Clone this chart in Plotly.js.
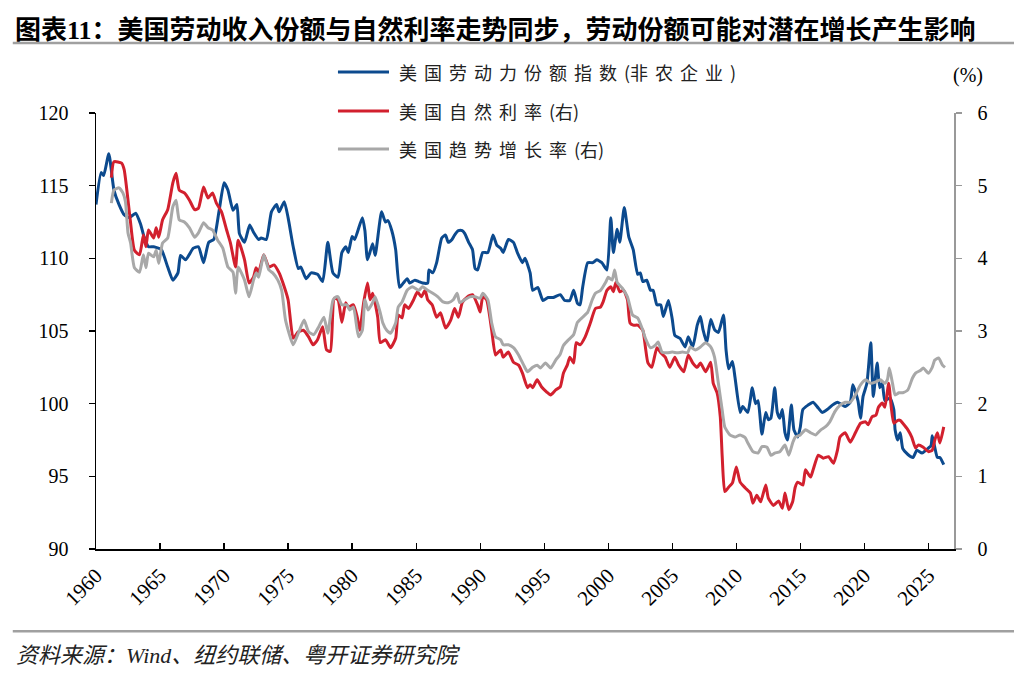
<!DOCTYPE html>
<html>
<head>
<meta charset="utf-8">
<script src="https://cdn.plot.ly/plotly-3.0.1.min.js"></script>
<style>
html,body{margin:0;padding:0;background:#fff;}
#chart{width:1014px;height:678px;}
</style>
</head>
<body>
<div id="chart"></div>
<script>
// ---- Data ----
const seriesNames = ['美国劳动力份额指数(非农企业)', '美国自然利率(右)', '美国趋势增长率(右)'];
const xTickVals = [1960,1965,1970,1975,1980,1985,1990,1995,2000,2005,2010,2015,2020,2025];
const xTickText = ['1960','1965','1970','1975','1980','1985','1990','1995','2000','2005','2010','2015','2020','2025'];

// 美国劳动力份额指数(非农企业) — left axis
const laborX = [1960.0,1960.4,1960.6,1961.0,1961.4,1961.8,1962.2,1962.6,1963.1,1963.5,1963.75,1964.1,1964.5,1965.1,1965.6,1966.0,1966.4,1966.6,1967.0,1967.6,1968.0,1968.4,1968.8,1969.2,1969.6,1970.0,1970.3,1970.7,1971.0,1971.2,1971.6,1972.0,1972.3,1972.7,1972.9,1973.3,1973.7,1974.1,1974.3,1974.7,1975.0,1975.4,1975.8,1976.0,1976.4,1976.8,1977.3,1977.7,1978.1,1978.5,1978.9,1979.2,1979.5,1979.7,1980.0,1980.2,1980.8,1981.0,1981.2,1981.6,1981.8,1982.3,1982.6,1982.8,1983.1,1983.4,1983.7,1984.0,1984.3,1984.5,1984.9,1985.2,1985.5,1985.9,1986.0,1986.3,1986.6,1987.0,1987.3,1987.5,1987.8,1988.0,1988.3,1988.6,1988.8,1989.1,1989.4,1989.6,1989.8,1990.2,1990.6,1991.0,1991.3,1991.6,1991.8,1992.2,1992.6,1992.9,1993.3,1993.5,1993.9,1994.1,1994.5,1994.9,1995.3,1995.7,1996.25,1996.6,1997.0,1997.3,1997.6,1997.8,1998.0,1998.4,1998.8,1999.1,1999.5,1999.9,2000.2,2000.4,2000.7,2000.9,2001.25,2001.6,2001.95,2002.3,2002.5,2002.7,2003.0,2003.3,2003.5,2003.8,2004.1,2004.3,2004.7,2005.0,2005.2,2005.6,2006.0,2006.25,2006.6,2006.95,2007.2,2007.4,2007.7,2008.0,2008.3,2008.6,2009.0,2009.2,2009.4,2009.7,2009.9,2010.3,2010.5,2010.9,2011.25,2011.5,2011.7,2012.0,2012.3,2012.5,2012.7,2013.0,2013.2,2013.4,2013.6,2013.8,2014.0,2014.3,2014.5,2014.8,2015.0,2015.2,2015.6,2016.0,2016.4,2016.7,2017.1,2017.5,2017.9,2018.3,2018.5,2018.9,2019.1,2019.5,2019.7,2019.9,2020.2,2020.5,2020.7,2021.0,2021.2,2021.4,2021.6,2022.0,2022.3,2022.4,2022.6,2022.8,2023.0,2023.4,2023.8,2024.1,2024.5,2024.8,2025.2,2025.3,2025.5,2025.7,2025.9,2026.2];
const laborY = [113.7,115.9,115.7,117.2,114.7,113.7,113.0,112.8,113.1,112.3,111.5,110.8,110.8,110.6,109.4,108.5,109.0,110.2,109.9,110.7,110.8,109.7,111.1,111.3,113.2,115.2,114.7,113.3,113.7,111.7,111.1,112.3,111.8,111.3,111.4,111.3,113.2,113.7,113.2,113.9,112.8,110.8,109.3,109.4,108.6,109.0,108.9,108.4,111.1,109.0,108.7,110.4,110.8,110.4,111.5,111.3,112.8,111.9,109.9,111.0,110.2,113.2,112.5,112.6,111.9,110.6,108.0,108.3,108.6,108.3,108.5,108.4,108.3,108.3,109.2,109.0,109.7,111.4,111.6,111.1,111.3,111.6,111.9,111.9,111.7,111.1,110.6,109.3,109.2,110.4,110.4,111.6,110.9,110.7,110.4,111.3,111.1,110.4,109.7,110.0,109.0,107.8,108.0,107.1,107.3,107.3,107.5,107.1,107.1,107.8,106.9,106.8,108.0,109.7,109.7,109.9,109.7,109.2,112.8,110.4,112.0,111.1,113.5,111.5,110.6,108.9,109.0,108.4,108.5,107.8,107.8,106.8,106.8,106.0,107.1,105.8,104.7,104.5,103.9,104.6,103.9,105.4,106.0,105.1,104.2,105.8,105.1,104.9,106.1,103.7,102.4,102.9,101.8,99.4,99.8,99.4,101.1,100.0,100.2,97.9,99.4,98.9,99.0,101.1,99.4,99.0,99.6,98.0,97.5,99.9,98.2,97.7,98.4,99.6,99.9,100.1,99.7,99.4,99.6,99.9,100.1,99.9,99.8,100.1,101.3,100.2,99.0,100.5,101.4,104.2,100.5,102.8,101.1,101.4,100.2,100.4,99.6,98.2,97.5,98.0,96.9,96.5,96.3,96.8,96.6,96.8,97.1,97.8,97.0,96.3,96.3,95.8];

// 美国自然利率(右) — right axis, %
const rateX = [1961.2,1961.4,1962.0,1962.2,1962.5,1962.7,1963.0,1963.4,1963.7,1963.9,1964.1,1964.5,1964.7,1964.9,1965.2,1965.6,1966.0,1966.25,1966.5,1966.9,1967.3,1967.7,1968.0,1968.4,1968.75,1969.1,1969.4,1969.8,1970.2,1970.5,1970.9,1971.1,1971.6,1971.95,1972.3,1972.5,1972.7,1973.1,1973.5,1973.9,1974.3,1974.6,1975.0,1975.4,1975.8,1976.2,1976.6,1976.95,1977.3,1977.7,1978.0,1978.3,1978.6,1978.9,1979.2,1979.5,1979.7,1980.1,1980.4,1980.6,1980.9,1981.2,1981.4,1981.6,1982.0,1982.2,1982.6,1983.0,1983.4,1983.6,1983.9,1984.1,1984.4,1984.8,1985.1,1985.4,1985.7,1985.9,1986.25,1986.6,1986.9,1987.3,1987.7,1988.0,1988.3,1988.6,1989.0,1989.4,1989.8,1990.0,1990.2,1990.5,1990.9,1991.2,1991.6,1991.8,1992.2,1992.6,1993.0,1993.3,1993.7,1993.9,1994.1,1994.45,1994.8,1995.2,1995.5,1995.9,1996.25,1996.5,1996.8,1997.0,1997.3,1997.5,1997.8,1998.2,1998.6,1999.0,1999.4,1999.6,1999.9,2000.2,2000.4,2000.6,2000.9,2001.2,2001.5,2001.7,2001.95,2002.3,2002.7,2002.9,2003.1,2003.4,2003.8,2004.1,2004.45,2004.8,2005.2,2005.5,2005.9,2006.25,2006.6,2006.95,2007.2,2007.6,2008.0,2008.2,2008.5,2008.75,2008.9,2009.1,2009.4,2009.7,2010.0,2010.3,2010.7,2011.1,2011.3,2011.6,2011.9,2012.3,2012.5,2012.9,2013.3,2013.6,2013.8,2014.1,2014.4,2014.6,2014.8,2015.2,2015.4,2015.8,2016.0,2016.4,2016.8,2017.2,2017.6,2017.9,2018.1,2018.5,2018.9,2019.3,2019.7,2020.1,2020.3,2020.6,2020.9,2021.1,2021.4,2021.6,2021.9,2022.1,2022.3,2022.6,2022.8,2023.0,2023.4,2023.7,2024.0,2024.2,2024.6,2025.0,2025.3,2025.5,2025.7,2025.9,2026.2];
const rateY = [5.11,5.33,5.31,5.22,4.80,4.49,4.11,4.05,4.32,4.16,4.39,4.28,4.42,4.29,4.53,4.67,5.04,5.17,4.94,4.90,4.80,4.67,4.69,4.98,4.83,4.90,4.76,4.64,4.39,4.21,3.88,4.25,3.98,3.66,3.74,3.87,3.81,4.05,3.88,3.91,3.80,3.66,3.43,2.90,2.99,3.01,2.92,2.81,2.88,3.06,2.74,2.72,3.45,3.43,3.12,3.39,3.33,3.36,3.19,3.01,3.39,3.66,3.43,3.52,3.19,2.84,2.88,2.77,2.90,3.22,3.18,3.36,3.31,3.43,3.54,3.47,3.56,3.43,3.36,3.19,3.25,3.04,3.15,3.31,3.19,3.39,3.47,3.50,3.36,3.26,3.47,3.43,3.01,2.67,2.74,2.64,2.71,2.57,2.53,2.42,2.22,2.26,2.22,2.33,2.23,2.16,2.12,2.19,2.23,2.42,2.53,2.64,2.56,2.84,2.81,2.92,3.11,3.31,3.33,3.40,3.56,3.61,3.54,3.67,3.54,3.56,3.43,3.11,3.08,3.08,3.01,2.78,2.56,2.50,2.77,2.70,2.64,2.50,2.64,2.53,2.44,2.67,2.56,2.50,2.56,2.44,2.57,2.28,2.15,1.82,1.27,0.79,0.85,0.91,1.13,0.92,0.84,0.77,0.63,0.74,0.65,0.88,0.70,0.60,0.66,0.56,0.77,0.54,0.65,0.85,0.92,0.88,1.09,0.99,1.09,1.29,1.25,1.27,1.18,1.36,1.54,1.60,1.47,1.60,1.73,1.75,1.71,1.82,1.84,1.95,2.01,1.95,2.28,1.95,1.73,1.77,1.77,1.73,1.64,1.54,1.39,1.43,1.40,1.34,1.36,1.50,1.60,1.46,1.68];

// 美国趋势增长率(右) — right axis, %
const trendX = [1961.2,1961.4,1961.8,1962.1,1962.3,1962.5,1962.7,1963.0,1963.4,1963.7,1963.9,1964.1,1964.5,1964.7,1964.9,1965.2,1965.6,1966.0,1966.25,1966.5,1966.9,1967.3,1967.7,1968.0,1968.4,1968.75,1969.1,1969.5,1969.9,1970.3,1970.7,1970.9,1971.1,1971.6,1971.95,1972.3,1972.5,1972.7,1973.1,1973.5,1973.8,1974.2,1974.5,1974.8,1975.4,1975.8,1976.25,1976.6,1977.0,1977.4,1977.8,1978.1,1978.5,1978.75,1978.9,1979.2,1979.6,1979.8,1980.1,1980.5,1980.8,1981.0,1981.25,1981.6,1981.8,1982.2,1982.4,1982.7,1983.0,1983.4,1983.6,1983.9,1984.3,1984.7,1985.2,1985.5,1985.9,1986.3,1986.7,1987.1,1987.5,1987.9,1988.2,1988.4,1988.8,1989.2,1989.6,1990.0,1990.2,1990.6,1990.9,1991.2,1991.6,1991.8,1992.2,1992.6,1993.0,1993.4,1993.7,1994.1,1994.45,1994.7,1995.1,1995.5,1995.9,1996.25,1996.5,1996.9,1997.3,1997.6,1998.0,1998.4,1998.75,1999.0,1999.4,1999.8,2000.0,2000.3,2000.5,2000.7,2001.1,2001.5,2001.9,2002.3,2002.7,2002.9,2003.3,2003.7,2003.9,2004.2,2004.6,2005.0,2005.4,2005.8,2006.2,2006.4,2006.8,2007.2,2007.6,2008.0,2008.3,2008.6,2008.9,2009.1,2009.5,2009.9,2010.3,2010.7,2010.9,2011.3,2011.7,2012.0,2012.4,2012.7,2013.0,2013.4,2013.8,2014.1,2014.4,2014.6,2015.0,2015.4,2015.8,2016.2,2016.6,2016.95,2017.3,2017.7,2018.1,2018.5,2018.9,2019.3,2019.7,2020.1,2020.5,2020.9,2021.25,2021.6,2021.8,2021.95,2022.2,2022.4,2022.7,2023.0,2023.4,2023.75,2024.0,2024.4,2024.6,2025.0,2025.3,2025.5,2025.8,2026.1,2026.3];
const trendY = [4.76,4.94,4.97,4.90,4.78,4.35,4.21,3.87,3.81,4.05,3.87,4.07,4.02,4.11,3.93,4.21,4.28,4.71,4.80,4.53,4.50,4.42,4.29,4.35,4.49,4.42,4.39,4.25,4.14,3.88,3.81,3.52,3.88,3.70,3.47,3.70,3.80,3.74,4.05,3.84,3.80,3.70,3.56,3.15,2.81,2.97,3.15,2.99,2.95,3.06,3.19,2.97,3.42,3.47,3.47,3.36,3.36,3.29,3.33,2.92,3.01,3.43,3.29,3.39,3.47,3.25,3.11,3.01,2.97,3.11,3.33,3.40,3.56,3.61,3.56,3.61,3.56,3.52,3.47,3.40,3.39,3.43,3.52,3.39,3.43,3.47,3.47,3.45,3.52,3.43,3.11,2.92,2.88,2.81,2.81,2.77,2.67,2.53,2.44,2.50,2.53,2.49,2.56,2.49,2.60,2.68,2.80,2.88,2.95,3.12,3.19,3.26,3.43,3.52,3.56,3.67,3.74,3.70,3.84,3.67,3.59,3.47,3.22,3.18,3.01,2.90,2.77,2.81,2.85,2.71,2.70,2.71,2.70,2.71,2.70,2.78,2.74,2.78,2.84,2.78,2.64,2.28,1.91,1.68,1.57,1.54,1.57,1.53,1.46,1.34,1.32,1.41,1.40,1.29,1.32,1.34,1.43,1.29,1.46,1.54,1.57,1.64,1.60,1.57,1.64,1.68,1.75,1.89,1.98,2.02,2.02,2.12,2.26,2.33,2.28,2.30,2.33,2.28,2.33,2.49,2.28,2.12,2.15,2.15,2.19,2.35,2.42,2.46,2.49,2.42,2.50,2.60,2.63,2.53,2.50];

// ---- Styles ----
const BLUE = '#0C4A8E', RED = '#D2202E', GRAY = '#A8A8A8';
const SERIF = '"Liberation Serif", "Times New Roman", serif';
const CJK = '"Noto Sans CJK SC", "Noto Sans", sans-serif';

const traces = [
  {x: laborX, y: laborY, name: seriesNames[0], type: 'scatter', mode: 'lines', yaxis: 'y',
   line: {color: BLUE, width: 3, shape: 'spline', smoothing: 0.5}, showlegend: false, hoverinfo: 'x+y'},
  {x: rateX, y: rateY, name: seriesNames[1], type: 'scatter', mode: 'lines', yaxis: 'y2',
   line: {color: RED, width: 3, shape: 'spline', smoothing: 0.5}, showlegend: false, hoverinfo: 'x+y'},
  {x: trendX, y: trendY, name: seriesNames[2], type: 'scatter', mode: 'lines', yaxis: 'y2',
   line: {color: GRAY, width: 3, shape: 'spline', smoothing: 0.5}, showlegend: false, hoverinfo: 'x+y'}
];

// custom legend (line samples + texts) placed in paper coordinates
const legendRowsY = [1.094, 1.0046, 0.9174];
const legendColors = [BLUE, RED, GRAY];
const sp = s => '<span style="letter-spacing:7px">' + s + '</span>';
const legendTexts = [
  sp('美国劳动力份额指数') + '(' + sp('非农企业') + ')',
  sp('美国自然利率') + '(右)',
  sp('美国趋势增长率') + '(右)'
];

const shapes = [
  // title underline
  {type: 'line', xref: 'paper', yref: 'paper', x0: -0.097, x1: 1.07, y0: 1.1606, y1: 1.1606,
   line: {color: '#A0A0A0', width: 2.5}},
  // source separator
  {type: 'line', xref: 'paper', yref: 'paper', x0: -0.097, x1: 1.07, y0: -0.1888, y1: -0.1888,
   line: {color: '#A0A0A0', width: 2.5}}
];
legendRowsY.forEach((yy, i) => {
  shapes.push({type: 'line', xref: 'paper', yref: 'paper', x0: 0.282, x1: 0.3415, y0: yy, y1: yy,
    line: {color: legendColors[i], width: 3}});
});

const titleText = '图表<span style="font-family:\'Liberation Serif\'">11</span>：美国劳动收入份额与自然利率走势同步，劳动份额可能对潜在增长产生影响';

const annotations = [
  {xref: 'paper', yref: 'paper', x: -0.0968, y: 1.195, xanchor: 'left', yanchor: 'middle', showarrow: false,
   text: titleText, font: {family: CJK, size: 26, color: '#000', weight: 'bold'}},
  {xref: 'paper', yref: 'paper', x: -0.0956, y: -0.2385, xanchor: 'left', yanchor: 'middle', showarrow: false,
   text: '资料来源：<span style="font-family:\'Liberation Serif\'">Wind</span>、纽约联储、粤开证券研究院',
   font: {family: CJK, size: 22, color: '#222', style: 'italic'}},
  {xref: 'paper', yref: 'paper', x: 1.0163, y: 1.0849, xanchor: 'center', yanchor: 'middle', showarrow: false,
   text: '(%)', font: {family: SERIF, size: 20, color: '#000'}}
];
legendRowsY.forEach((yy, i) => {
  annotations.push({xref: 'paper', yref: 'paper', x: 0.3508, y: yy, xanchor: 'left', yanchor: 'middle',
    showarrow: false, text: legendTexts[i], font: {family: CJK, size: 18, color: '#222'}});
});

const layout = {
  width: 1014, height: 678,
  margin: {l: 96, r: 60, t: 113, b: 129, pad: 0},
  paper_bgcolor: '#fff', plot_bgcolor: '#fff',
  xaxis: {
    range: [1960, 2027], tickvals: xTickVals, ticktext: xTickText, tickangle: -45,
    ticks: 'inside', ticklen: 6, tickwidth: 1.3, tickcolor: '#000',
    showline: true, linecolor: '#000', linewidth: 2, showgrid: false, zeroline: false,
    tickfont: {family: SERIF, size: 21, color: '#000'}, ticklabelstandoff: 4
  },
  yaxis: {
    range: [90, 120], dtick: 5, tick0: 90,
    ticks: 'outside', ticklen: 6, tickwidth: 1.3, tickcolor: '#000',
    showline: true, linecolor: '#000', linewidth: 1.5, showgrid: false, zeroline: false,
    tickfont: {family: SERIF, size: 20, color: '#000'}, ticklabelstandoff: 16
  },
  yaxis2: {
    range: [0, 6], dtick: 1, tick0: 0, overlaying: 'y', side: 'right',
    ticks: 'outside', ticklen: 6, tickwidth: 1.3, tickcolor: '#999',
    showline: true, linecolor: '#999', linewidth: 1.5, showgrid: false, zeroline: false,
    tickfont: {family: SERIF, size: 20, color: '#000'}, ticklabelstandoff: 12
  },
  showlegend: false,
  shapes: shapes,
  annotations: annotations
};

Plotly.newPlot('chart', traces, layout, {displayModeBar: false, staticPlot: true});
</script>
</body>
</html>
